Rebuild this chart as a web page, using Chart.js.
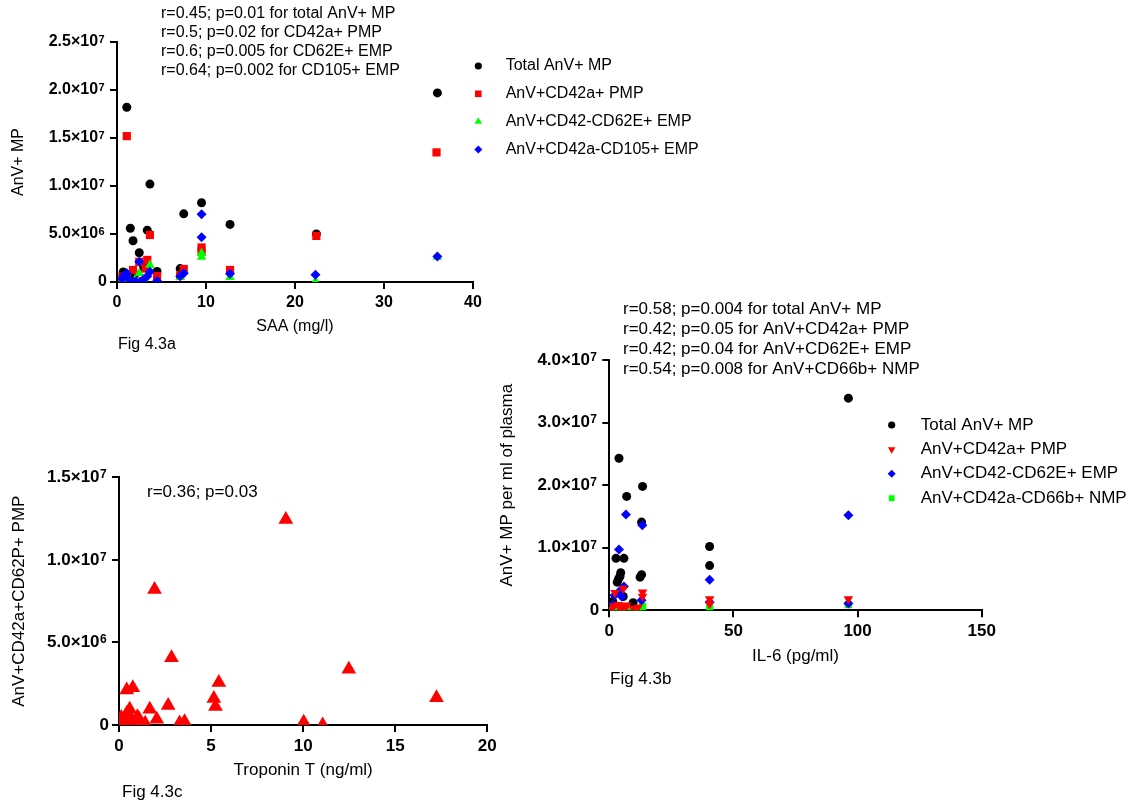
<!DOCTYPE html>
<html lang="en">
<head>
<meta charset="UTF-8" />
<title>AnV+ MP vs SAA, IL-6 and Troponin T</title>
<script src="https://cdn.jsdelivr.net/npm/chart.js"></script>
<style>
  body { margin: 0; background: #fff; }
  .wrap { position: relative; width: 1138px; height: 805px; }
  .wrap canvas { position: absolute; left: 0; top: 0; }
</style>
</head>
<body>
<div class="wrap">
  <canvas id="chartA" width="1138" height="805"></canvas>
  <canvas id="chartB" width="1138" height="805"></canvas>
  <canvas id="chartC" width="1138" height="805"></canvas>
</div>

<script>
// ---- Fig 4.3a : SAA (mg/l) ----
var saaTotal = [[0.7,1.05e6],[1.1,1.82e7],[1.5,5.6e6],[1.8,4.3e6],[2.5,3.05e6],[3.4,5.4e6],[3.7,1.02e7],
  [4.5,1.1e6],[7.1,1.4e6],[7.5,7.1e6],[9.5,8.25e6],[12.7,6.0e6],[22.4,5.0e6],[36.0,1.97e7],[2.0,0.8e6],[3.0,1.5e6]];
var saaPmp = [[1.1,1.52e7],[3.7,4.9e6],[9.5,3.6e6],[9.5,3.2e6],[12.7,1.25e6],[7.5,1.35e6],[1.8,1.25e6],
  [2.5,2.1e6],[3.4,2.3e6],[3.2,1.4e6],[4.5,0.62e6],[7.1,0.7e6],[0.6,0.55e6],[1.1,0.6e6],[22.4,4.8e6],[35.9,1.35e7]];
var saaEmp62 = [[9.5,3.0e6],[9.5,2.6e6],[3.7,1.77e6],[2.5,0.9e6],[12.7,0.5e6],[7.1,0.5e6],[1.1,0.15e6],
  [3.0,0.1e6],[4.5,0.1e6],[22.3,0.1e6],[36.0,2.6e6],[2.0,0.2e6],[0.7,0.2e6]];
var saaEmp105 = [[9.5,7.05e6],[9.5,4.65e6],[2.5,2.1e6],[3.7,1.07e6],[3.4,0.6e6],[3.0,0.28e6],[2.6,0.05e6],
  [2.1,0.05e6],[1.8,0.05e6],[1.3,0.3e6],[1.1,0.9e6],[0.7,0.6e6],[0.6,0.3e6],[4.5,0.1e6],[7.1,0.6e6],
  [7.5,0.9e6],[12.7,0.85e6],[22.3,0.75e6],[36.0,2.65e6]];
var saaXTicks = [0, 10, 20, 30, 40];
var saaXLabels = ['0', '10', '20', '30', '40'];
var saaYTicks = [0, 5e6, 1e7, 1.5e7, 2e7, 2.5e7];
var saaYLabels = ['0', '5.0×10', '1.0×10', '1.5×10', '2.0×10', '2.5×10'];
var saaYExp = ['', '6', '7', '7', '7', '7'];
var saaNotes = ['r=0.45; p=0.01 for total AnV+ MP', 'r=0.5; p=0.02 for CD42a+ PMP',
  'r=0.6; p=0.005 for CD62E+ EMP', 'r=0.64; p=0.002 for CD105+ EMP'];

// ---- Fig 4.3b : IL-6 (pg/ml) ----
var il6Total = [[96.3,3.39e7],[3.9,2.43e7],[13.4,1.98e7],[7.0,1.82e7],[13.0,1.41e7],[40.4,1.02e7],[40.4,7.15e6],
  [2.7,8.3e6],[5.9,8.3e6],[4.6,6.0e6],[4.3,5.4e6],[3.7,5.0e6],[3.2,4.5e6],[13.0,5.7e6],[12.4,5.3e6],
  [9.6,1.2e6],[5.6,2.2e6],[1.4,1.4e6]];
var il6Pmp = [[5.6,3.5e6],[2.3,2.8e6],[13.4,2.9e6],[13.4,2.2e6],[40.4,1.8e6],[40.4,1.0e6],[96.3,1.8e6],
  [1.8,0.7e6],[3.7,0.9e6],[5.0,0.6e6],[7.0,0.8e6],[9.6,0.3e6],[11.6,0.5e6],[1.0,0.2e6],[4.3,0.3e6],[6.2,0.2e6]];
var il6Emp = [[6.7,1.53e7],[13.3,1.36e7],[3.9,9.7e6],[40.4,4.9e6],[96.3,1.52e7],[5.9,3.8e6],[5.0,2.2e6],
  [4.0,3.0e6],[13.0,1.6e6],[40.4,1.3e6],[2.1,2.4e6],[1.4,0.9e6],[96.3,1.1e6]];
var il6Nmp = [[96.3,0.9e6],[40.4,0.35e6],[13.4,0.6e6],[1.0,0.1e6],[2.5,0.2e6],[4.0,0.3e6],[5.5,0.1e6],
  [7.0,0.2e6],[9.6,0.1e6],[11.5,0.2e6],[13.0,0.1e6]];
var il6XTicks = [0, 50, 100, 150];
var il6XLabels = ['0', '50', '100', '150'];
var il6YTicks = [0, 1e7, 2e7, 3e7, 4e7];
var il6YLabels = ['0', '1.0×10', '2.0×10', '3.0×10', '4.0×10'];
var il6YExp = ['', '7', '7', '7', '7'];
var il6Notes = ['r=0.58; p=0.004 for total AnV+ MP', 'r=0.42; p=0.05 for AnV+CD42a+ PMP',
  'r=0.42; p=0.04 for AnV+CD62E+ EMP', 'r=0.54; p=0.008 for AnV+CD66b+ NMP'];

// ---- Fig 4.3c : Troponin T (ng/ml) ----
var tropPmp = [[9.06,1.245e7],[1.93,8.2e6],[2.85,4.07e6],[12.48,3.37e6],[17.24,1.65e6],[5.42,2.58e6],
  [5.15,1.6e6],[5.24,1.12e6],[2.67,1.18e6],[10.03,0.17e6],[11.06,0],[0.42,2.12e6],[0.75,2.26e6],
  [1.67,0.95e6],[0.58,0.95e6],[2.05,0.35e6],[3.29,0.12e6],[3.56,0.2e6],[1.1,0.35e6],[1.42,0.1e6],
  [0.42,0.7e6],[0.25,0.35e6],[0.05,0.05e6],[0.3,0],[0.87,0.1e6],[0.12,0.45e6],[0.7,0.3e6],[1.0,0.5e6]];
var tropXTicks = [0, 5, 10, 15, 20];
var tropXLabels = ['0', '5', '10', '15', '20'];
var tropYTicks = [0, 5e6, 1e7, 1.5e7];
var tropYLabels = ['0', '5.0×10', '1.0×10', '1.5×10'];
var tropYExp = ['', '6', '7', '7'];
var tropNotes = ['r=0.36; p=0.03'];

var FONT = '"Liberation Sans", Arial, Helvetica, sans-serif';
var EXP_SLOT = '\u2007';
Chart.defaults.font.family = FONT;
Chart.defaults.color = '#000';

// free text, legend and tick exponents drawn on top of each chart
var notesPlugin = {
  id: 'notes',
  afterDraw: function (chart, args, opts) {
    var ctx = chart.ctx;
    ctx.save();
    ctx.textBaseline = 'middle';
    ctx.textAlign = 'left';
    ctx.fillStyle = '#000';
    (opts.texts || []).forEach(function (t) {
      ctx.font = t.size + 'px ' + FONT;
      t.lines.forEach(function (line, i) { ctx.fillText(line, t.x, t.y + i * (t.step || 0)); });
    });
    var k = opts.key;
    if (k) {
      ctx.font = k.size + 'px ' + FONT;
      chart.data.datasets.forEach(function (ds, i) {
        var y = k.y + i * k.step;
        ctx.fillStyle = ds.backgroundColor;
        ctx.strokeStyle = ds.backgroundColor;
        Chart.helpers.drawPoint(ctx, { pointStyle: ds.pointStyle, radius: ds.pointRadius * k.scale,
          rotation: ds.pointRotation || 0, borderWidth: 0 }, k.x, y);
        ctx.fillStyle = '#000';
        ctx.fillText(ds.label, k.textX, y);
      });
    }
    if (opts.exps) {
      var ys = chart.scales.y;
      var fs = ys.options.ticks.font.size;
      ctx.font = 'bold ' + fs + 'px ' + FONT;
      var slot = ctx.measureText(EXP_SLOT).width;
      var right = ys.right - ys.options.grid.tickLength - ys.options.ticks.padding;
      ctx.font = 'bold ' + Math.round(fs * 0.68) + 'px ' + FONT;
      ctx.textBaseline = 'alphabetic';
      ys.ticks.forEach(function (t, i) {
        if (!opts.exps[i]) return;
        ctx.fillText(opts.exps[i], right - slot + 0.5, ys.getPixelForValue(t.value) + 0.05 * fs);
      });
    }
    ctx.restore();
  }
};

function series(label, data, color, style, r, order, rot) {
  return { label: label, data: data, pointStyle: style, pointRadius: r, pointHoverRadius: r,
    pointRotation: rot || 0, backgroundColor: color, borderColor: color, pointBorderWidth: 0,
    borderWidth: 0, showLine: false, order: order };
}

function makeAxis(values, labels, o) {
  return {
    type: 'linear',
    min: values[0],
    max: values[values.length - 1],
    afterBuildTicks: function (s) { s.ticks = values.map(function (v) { return { value: v }; }); },
    afterFit: function (s) { if (o.w) s.width = o.w; if (o.h) s.height = o.h; },
    border: { display: true, color: '#000', width: 2 },
    grid: { display: true, drawOnChartArea: false, drawTicks: true, tickLength: 7, color: '#000', lineWidth: 2 },
    ticks: { font: { size: o.size, weight: 'bold' }, color: '#000', padding: o.pad, maxRotation: 0,
      autoSkip: false,
      callback: function (v, i) { return labels[i] + (o.exps && o.exps[i] ? EXP_SLOT : ''); } },
    title: { display: true, text: o.title, font: { size: o.size }, color: '#000', padding: 0 }
  };
}

function makeChart(id, g, datasets, xv, xl, yv, yl, yExp, xTitle, yTitle, notes) {
  var lh = g.size * 1.2;
  var padLeft = g.yTitleX - lh / 2;
  var xBottom = g.xTitleY + lh / 2;
  notes.exps = yExp;
  return new Chart(document.getElementById(id), {
    type: 'scatter',
    data: { datasets: datasets },
    options: {
      responsive: false,
      animation: false,
      devicePixelRatio: 1,
      layout: { padding: { left: padLeft, top: g.top, right: 1138 - g.right, bottom: 805 - xBottom } },
      scales: {
        x: makeAxis(xv, xl, { size: g.size, pad: g.xTickY - g.bottom - 7 - lh / 2, title: xTitle, h: xBottom - g.bottom }),
        y: makeAxis(yv, yl, { size: g.size, pad: 3, title: yTitle, w: g.left - padLeft, exps: yExp })
      },
      plugins: { legend: { display: false }, tooltip: { enabled: false }, notes: notes }
    },
    plugins: [notesPlugin]
  });
}

makeChart('chartA',
  { left: 117, top: 42, right: 473, bottom: 282, yTitleX: 19, xTickY: 302.7, xTitleY: 326.7, size: 16 },
  [
    series('Total AnV+ MP', saaTotal, '#000000', 'circle', 4.5, 4),
    series('AnV+CD42a+ PMP', saaPmp, '#ff0000', 'rect', 5.8, 3),
    series('AnV+CD42-CD62E+ EMP', saaEmp62, '#00ff00', 'triangle', 5.5, 2),
    series('AnV+CD42a-CD105+ EMP', saaEmp105, '#0000ff', 'rectRot', 5, 1)
  ],
  saaXTicks, saaXLabels, saaYTicks, saaYLabels, saaYExp, 'SAA (mg/l)', 'AnV+ MP',
  {
    texts: [
      { lines: saaNotes, x: 161, y: 14, step: 19, size: 16 },
      { lines: ['Fig 4.3a'], x: 118, y: 345, size: 16 }
    ],
    key: { x: 478.3, textX: 505.7, y: 66, step: 27.8, size: 16, scale: 0.8 }
  });

makeChart('chartB',
  { left: 609.3, top: 360, right: 981.7, bottom: 610.3, yTitleX: 507, xTickY: 631.7, xTitleY: 656.7, size: 17 },
  [
    series('Total AnV+ MP', il6Total, '#000000', 'circle', 4.5, 4),
    series('AnV+CD42a+ PMP', il6Pmp, '#ff0000', 'triangle', 5.5, 1, 180),
    series('AnV+CD42-CD62E+ EMP', il6Emp, '#0000ff', 'rectRot', 5, 2),
    series('AnV+CD42a-CD66b+ NMP', il6Nmp, '#00ff00', 'rect', 5.2, 3)
  ],
  il6XTicks, il6XLabels, il6YTicks, il6YLabels, il6YExp, 'IL-6 (pg/ml)', 'AnV+ MP per ml of plasma',
  {
    texts: [
      { lines: il6Notes, x: 623, y: 309, step: 20, size: 17 },
      { lines: ['Fig 4.3b'], x: 610, y: 679, size: 17 }
    ],
    key: { x: 891.7, textX: 920.7, y: 425, step: 24.4, size: 17, scale: 0.8 }
  });

makeChart('chartC',
  { left: 119, top: 477.3, right: 487.3, bottom: 725, yTitleX: 19, xTickY: 746.7, xTitleY: 770.7, size: 17 },
  [
    series('AnV+CD42a+CD62P+ PMP', tropPmp, '#ff0000', 'triangle', 8.5, 1)
  ],
  tropXTicks, tropXLabels, tropYTicks, tropYLabels, tropYExp, 'Troponin T (ng/ml)', 'AnV+CD42a+CD62P+ PMP',
  {
    texts: [
      { lines: tropNotes, x: 147, y: 492.5, size: 17 },
      { lines: ['Fig 4.3c'], x: 122, y: 792, size: 17 }
    ]
  });
</script>
</body>
</html>
